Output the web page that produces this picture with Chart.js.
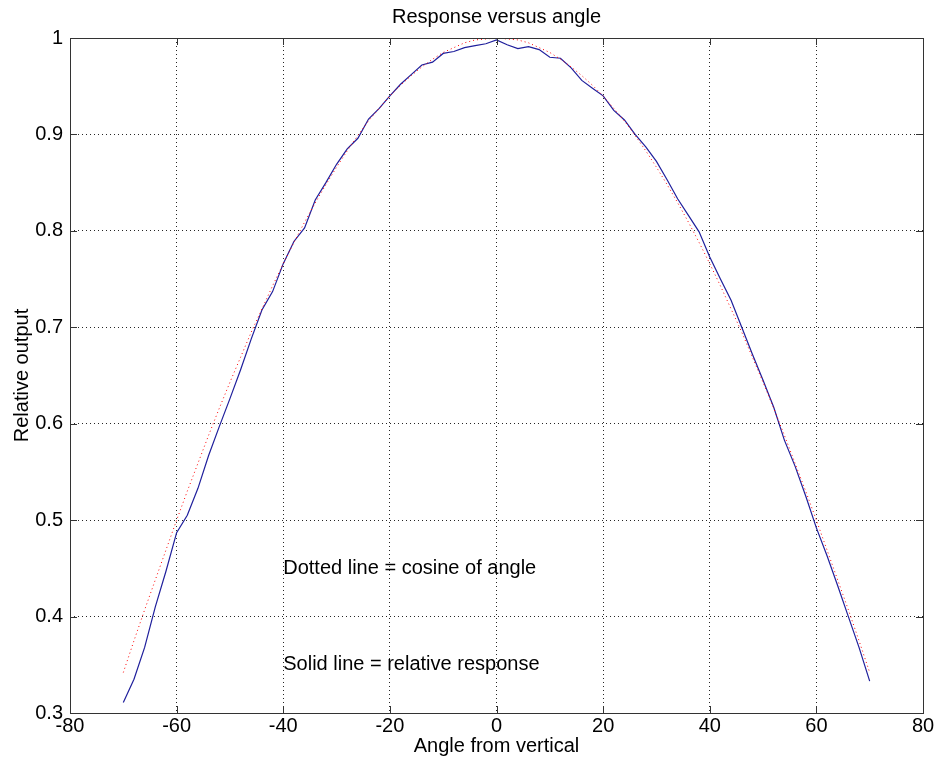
<!DOCTYPE html>
<html>
<head>
<meta charset="utf-8">
<title>Response versus angle</title>
<script src="https://cdn.jsdelivr.net/npm/chart.js@4.4.0/dist/chart.umd.min.js"></script>
<style>
  body { margin: 0; background: #fff; }
  #wrap { width: 938px; height: 765px; }
</style>
</head>
<body>
<div id="wrap"><canvas id="myChart" width="938" height="765"></canvas></div>
<script>
// angles in degrees (x values of both curves)
const angles = [-70,-68,-66,-64,-62,-60,-58,-56,-54,-52,-50,-48,-46,-44,-42,-40,-38,-36,-34,-32,-30,-28,-26,-24,-22,-20,-18,-16,-14,-12,-10,-8,-6,-4,-2,0,
  2,4,6,8,10,12,14,16,18,20,22,24,26,28,30,32,34,36,38,40,42,44,46,48,50,52,54,56,58,60,62,64,66,68,70];

// solid line - measured relative response
const response = [0.311,0.335,0.368,0.410,0.447,0.487,0.505,0.533,0.567,0.597,0.626,0.656,0.688,0.718,0.737,0.766,0.789,0.803,0.832,0.850,0.869,0.885,0.896,0.916,0.927,0.940,0.952,0.962,0.972,0.975,0.984,0.986,0.990,0.992,0.994,0.998,
  0.993,0.989,0.991,0.988,0.980,0.979,0.969,0.956,0.948,0.940,0.925,0.915,0.900,0.887,0.872,0.853,0.833,0.816,0.799,0.773,0.750,0.728,0.700,0.672,0.645,0.617,0.583,0.556,0.525,0.492,0.463,0.432,0.400,0.368,0.333];

// dotted line - cosine of angle
const cosine = [0.342,0.375,0.407,0.438,0.469,0.500,0.530,0.559,0.588,0.616,0.643,0.669,0.695,0.719,0.743,0.766,0.788,0.809,0.829,0.848,0.866,0.883,0.899,0.914,0.927,0.940,0.951,0.961,0.970,0.978,0.985,0.990,0.995,0.998,0.999,1.000,
  0.999,0.998,0.995,0.990,0.985,0.978,0.970,0.961,0.951,0.940,0.927,0.914,0.899,0.883,0.866,0.848,0.829,0.809,0.788,0.766,0.743,0.719,0.695,0.669,0.643,0.616,0.588,0.559,0.530,0.500,0.469,0.438,0.407,0.375,0.342];

// text notes placed in data coordinates
const noteText = ["Dotted line = cosine of angle", "Solid line = relative response"];
const noteX = [-40, -40];
const noteY = [0.45, 0.35];

const FONT = "'Liberation Sans', Arial, Helvetica, sans-serif";
const FS = 20;

Chart.defaults.color = "#000";
Chart.defaults.font.family = FONT;
Chart.defaults.font.size = FS;

// matlab style box, inward ticks and the text notes
const matlabBox = {
  id: "matlabBox",
  afterDraw(chart) {
    const ctx = chart.ctx;
    const a = chart.chartArea;
    const xs = chart.scales.x, ys = chart.scales.y;
    ctx.save();
    ctx.strokeStyle = "#333";
    ctx.lineWidth = 1;
    ctx.beginPath();
    xs.ticks.forEach(function (t) {
      const px = Math.round(xs.getPixelForValue(t.value)) + 0.5;
      ctx.moveTo(px, a.bottom); ctx.lineTo(px, a.bottom - 7);
      ctx.moveTo(px, a.top); ctx.lineTo(px, a.top + 7);
    });
    ys.ticks.forEach(function (t) {
      const py = Math.round(ys.getPixelForValue(t.value)) + 0.5;
      ctx.moveTo(a.left, py); ctx.lineTo(a.left + 7, py);
      ctx.moveTo(a.right, py); ctx.lineTo(a.right - 7, py);
    });
    ctx.stroke();
    ctx.strokeRect(Math.round(a.left) + 0.5, Math.round(a.top) + 0.5,
      Math.round(a.right - a.left), Math.round(a.bottom - a.top));

    ctx.fillStyle = "#000";
    ctx.font = FS + "px " + FONT;
    ctx.textAlign = "left";
    ctx.textBaseline = "middle";
    noteText.forEach(function (txt, i) {
      ctx.fillText(txt, xs.getPixelForValue(noteX[i]), ys.getPixelForValue(noteY[i]));
    });
    ctx.restore();
  }
};

const ctx = document.getElementById("myChart").getContext("2d");
const myChart = new Chart(ctx, {
  type: "line",
  data: {
    datasets: [
      {
        label: "cosine of angle",
        data: angles.map(function (a, i) { return { x: a, y: cosine[i] }; }),
        borderColor: "#ff0000",
        borderWidth: 1,
        borderDash: [1, 3],
        pointRadius: 0,
        tension: 0,
        fill: false
      },
      {
        label: "relative response",
        data: angles.map(function (a, i) { return { x: a, y: response[i] }; }),
        borderColor: "#1f1f9c",
        borderWidth: 1.2,
        pointRadius: 0,
        tension: 0,
        fill: false
      }
    ]
  },
  options: {
    responsive: false,
    animation: false,
    devicePixelRatio: 1,
    layout: { padding: { left: 0, right: 15, top: 0, bottom: 0 } },
    plugins: {
      legend: { display: false },
      tooltip: { enabled: false },
      title: { display: false }
    },
    scales: {
      // top axis only carries the title so it is centred over the plot box
      top: {
        type: "linear",
        position: "top",
        min: -80,
        max: 80,
        afterFit: function (scale) { scale.height = 38; },
        ticks: { display: false },
        grid: { display: false, drawTicks: false },
        border: { display: false },
        title: { display: true, text: "Response versus angle", color: "#000", padding: { top: 5, bottom: 0 } }
      },
      x: {
        type: "linear",
        min: -80,
        max: 80,
        afterFit: function (scale) { scale.height = 52; },
        ticks: { stepSize: 20, padding: 1, maxRotation: 0, color: "#000" },
        grid: { color: "rgba(0,0,0,0.85)", drawTicks: false },
        border: { display: false, dash: [1, 3] },
        title: { display: true, text: "Angle from vertical", color: "#000", padding: { top: 0, bottom: 7 } }
      },
      y: {
        type: "linear",
        min: 0.3,
        max: 1,
        afterFit: function (scale) { scale.width = 70; },
        ticks: {
          stepSize: 0.1,
          padding: 7,
          color: "#000",
          callback: function (v) { return String(Math.round(v * 10) / 10); }
        },
        grid: { color: "rgba(0,0,0,0.85)", drawTicks: false },
        border: { display: false, dash: [1, 3] },
        title: { display: true, text: "Relative output", color: "#000", padding: { top: 10, bottom: 0 } }
      }
    }
  },
  plugins: [matlabBox]
});
</script>
</body>
</html>
